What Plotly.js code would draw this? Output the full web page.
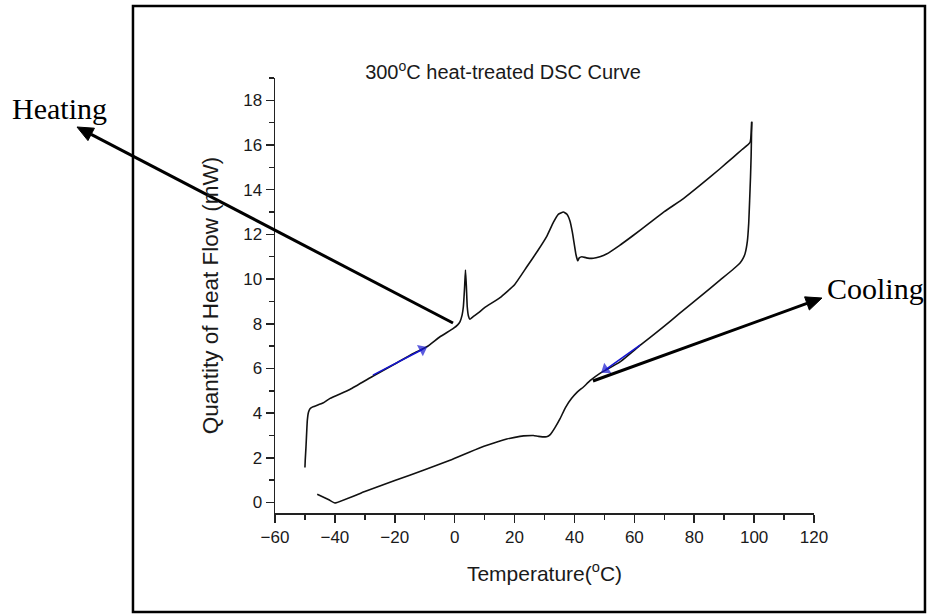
<!DOCTYPE html>
<html>
<head>
<meta charset="utf-8">
<script src="https://cdn.plot.ly/plotly-3.0.1.min.js"></script>
<style>html,body{margin:0;padding:0;background:#fff;}#chart{width:927px;height:615px;}</style>
</head>
<body>
<div id="chart"></div>
<script>
// Heating branch (temperature in °C, heat flow in mW)
const heatingT = [-50.0, -49.9, -49.65, -49.2, -48.8, -48.3, -47.4, -44, -41.6, -35, -27.2, -20, -13.8, -9.3, -4.9, -0.45, 1.0, 1.8, 2.5, 2.9, 3.3, 3.6, 3.9, 4.2, 4.6, 5.1, 6, 8, 10, 15.15, 20, 24.1, 27.9, 30.7, 33, 34.6, 36.3, 37.5, 38.5, 39.3, 39.9, 40.5, 41.1, 41.6, 42.5, 44, 46.3, 48.5, 50.7, 55, 59.6, 65, 70, 76.4, 82, 88.7, 93, 96, 98.65, 99.2];
const heatingQ = [1.57, 1.9, 2.49, 3.69, 4.05, 4.2, 4.28, 4.45, 4.66, 5.06, 5.66, 6.2, 6.67, 6.97, 7.42, 7.79, 7.95, 8.1, 8.4, 8.76, 9.6, 10.4, 9.7, 8.76, 8.35, 8.2, 8.3, 8.5, 8.72, 9.17, 9.75, 10.55, 11.3, 11.9, 12.55, 12.9, 13.0, 12.9, 12.6, 12.1, 11.6, 11.1, 10.82, 10.95, 11.0, 10.95, 10.93, 11.0, 11.12, 11.5, 11.95, 12.5, 13.02, 13.6, 14.2, 14.95, 15.45, 15.8, 16.12, 17.04];
// Cooling branch
const coolingT = [99.2, 99.1, 99.0, 98.8, 98.5, 98.2, 97.75, 97.0, 96.4, 95.3, 93.1, 88.7, 81.95, 75, 69.7, 62, 55, 48.5, 45.2, 43.0, 41.0, 39.0, 37.0, 35.2, 33.5, 32.0, 30.7, 28, 26.3, 23, 21.8, 17.4, 15.15, 8.5, -1.55, -10, -20, -30, -40, -42, -45.9];
const coolingQ = [17.04, 16.2, 15.5, 14.58, 13.5, 12.5, 11.7, 11.15, 10.95, 10.72, 10.45, 9.96, 9.21, 8.45, 7.86, 7.04, 6.27, 5.78, 5.45, 5.17, 4.95, 4.65, 4.25, 3.75, 3.35, 3.05, 2.94, 2.96, 3.0, 2.98, 2.96, 2.84, 2.75, 2.45, 1.89, 1.47, 0.98, 0.49, -0.02, 0.12, 0.37];
// Direction arrows along the curve: tail -> tip
const heatArrowT = [-27.3, -10.8];
const heatArrowQ = [5.70, 6.85];
const coolArrowT = [61.9, 50.4];
const coolArrowQ = [7.04, 5.95];
const chartTitle = '300<sup>o</sup>C heat-treated DSC Curve';
const xTitle = 'Temperature(<sup>o</sup>C)';
const yTitle = 'Quantity of Heat Flow (mW)';
const labelHeating = 'Heating';
const labelCooling = 'Cooling';

const lineStyle = {color: '#111', width: 1.6, shape: 'spline', smoothing: 0.4};
const blue = '#1515d0';
const traces = [
  {x: heatingT, y: heatingQ, mode: 'lines', line: lineStyle, name: 'Heating', showlegend: false},
  {x: coolingT, y: coolingQ, mode: 'lines', line: lineStyle, name: 'Cooling', showlegend: false},
  {x: heatArrowT, y: heatArrowQ, mode: 'lines+markers', line: {color: blue, width: 1.6}, showlegend: false, cliponaxis: false,
   marker: {symbol: 'triangle-up', angleref: 'previous', size: [0, 11], color: blue, line: {width: 0}}},
  {x: coolArrowT, y: coolArrowQ, mode: 'lines+markers', line: {color: blue, width: 1.6}, showlegend: false, cliponaxis: false,
   marker: {symbol: 'triangle-up', angleref: 'previous', size: [0, 11], color: blue, line: {width: 0}}}
];

const fam = 'Arial, "Liberation Sans", sans-serif';
const axisFont = {family: fam, size: 17, color: '#1a1a1a'};
const serif = '"Liberation Serif", "Times New Roman", serif';
const layout = {
  width: 927, height: 615,
  margin: {l: 275, r: 113, t: 78, b: 102},
  paper_bgcolor: '#fff', plot_bgcolor: '#fff',
  font: axisFont,
  title: {text: chartTitle, font: {family: fam, size: 20, color: '#1a1a1a'},
          xref: 'paper', x: 0.423, xanchor: 'center', yref: 'container', y: 0.883, yanchor: 'middle'},
  xaxis: {range: [-60, 120], dtick: 20, tick0: 0, ticks: 'outside', ticklen: 8, tickwidth: 1.5, tickcolor: '#222',
          showline: true, linecolor: '#222', linewidth: 1.5, showgrid: false, zeroline: false,
          minor: {dtick: 10, ticks: 'outside', ticklen: 5, tickwidth: 1.5, tickcolor: '#222', showgrid: false},
          tickfont: axisFont,
          title: {text: xTitle, font: {family: fam, size: 21, color: '#1a1a1a'}, standoff: 20}},
  yaxis: {range: [-0.47, 19], dtick: 2, tick0: 0, ticks: 'outside', ticklen: 8, tickwidth: 1.5, tickcolor: '#222',
          showline: true, linecolor: '#222', linewidth: 1.5, showgrid: false, zeroline: false,
          minor: {dtick: 1, ticks: 'outside', ticklen: 5, tickwidth: 1.5, tickcolor: '#222', showgrid: false},
          tickfont: axisFont,
          title: {text: yTitle, font: {family: fam, size: 22.5, color: '#1a1a1a'}, standoff: 18}},
  shapes: [
    {type: 'rect', xref: 'paper', yref: 'paper', x0: -0.2635, x1: 1.2059, y0: -0.2276, y1: 1.1655,
     line: {color: '#000', width: 2.5}, fillcolor: 'rgba(0,0,0,0)', layer: 'above'},
    // Heating pointer: shaft and head
    {type: 'line', xref: 'paper', yref: 'paper', x0: 0.33024, y0: 0.43678, x1: -0.34102, y1: 0.87034,
     line: {color: '#000', width: 3}},
    {type: 'path', xref: 'paper', yref: 'paper', path: 'M -0.36735 0.88736 L -0.33501 0.88462 L -0.34703 0.85607 Z',
     fillcolor: '#000', line: {color: '#000', width: 1}},
    // Cooling pointer: shaft and head
    {type: 'line', xref: 'paper', yref: 'paper', x0: 0.58998, y0: 0.30345, x1: 0.98694, y1: 0.48172,
     line: {color: '#000', width: 3}},
    {type: 'path', xref: 'paper', yref: 'paper', path: 'M 1.01484 0.49425 L 0.99137 0.46660 L 0.98252 0.49685 Z',
     fillcolor: '#000', line: {color: '#000', width: 1}}
  ],
  annotations: [
    {text: labelHeating, xref: 'paper', yref: 'paper', x: -0.4917, y: 0.931, xanchor: 'left', yanchor: 'middle', showarrow: false,
     font: {family: serif, size: 30, color: '#000'}},
    {text: labelCooling, xref: 'paper', yref: 'paper', x: 1.0204, y: 0.517, xanchor: 'left', yanchor: 'middle', showarrow: false,
     font: {family: serif, size: 30, color: '#000'}}
  ]
};

Plotly.newPlot('chart', traces, layout, {displayModeBar: false, staticPlot: true});
</script>
</body>
</html>
